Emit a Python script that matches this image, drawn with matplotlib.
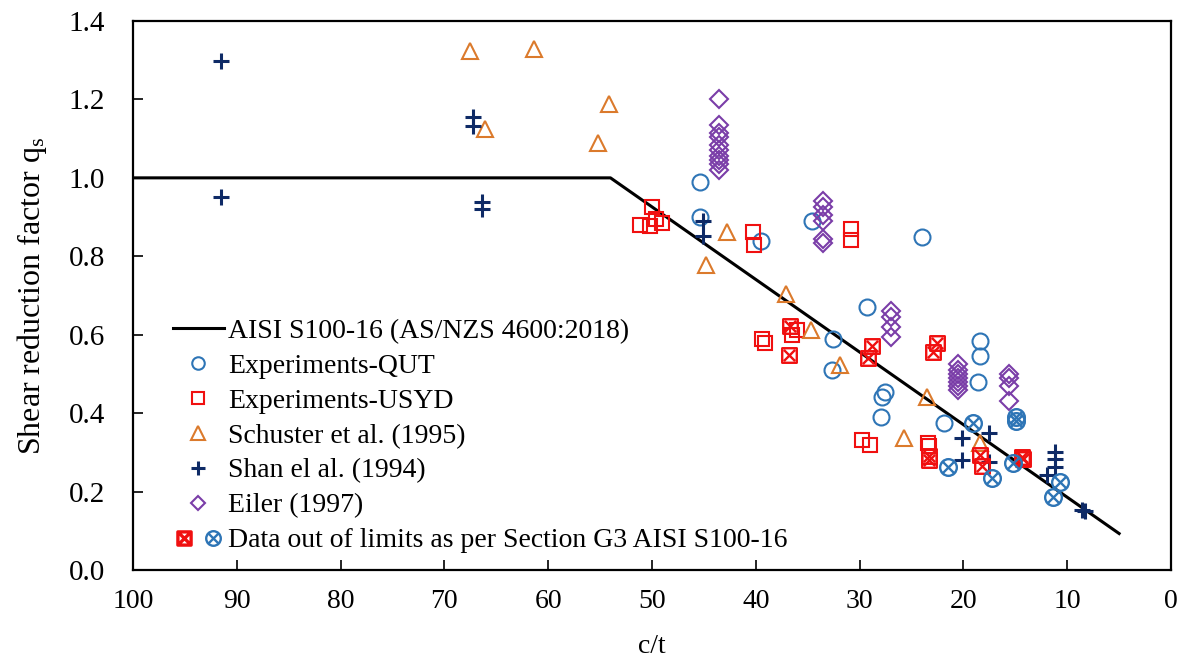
import matplotlib
matplotlib.use("Agg")
import matplotlib.pyplot as plt
from matplotlib.path import Path
from matplotlib.lines import Line2D
from matplotlib.legend_handler import HandlerTuple

# AISI S100-16 design curve (qs = 1 above c/t = 54, linear below)
aisi_ct = [100, 54, 5]
aisi_qs = [1.0, 1.0, 0.093]

# Experiments - QUT
qut_ct = [45.4, 45.4, 39.5, 34.6, 24.0, 29.3, 32.6, 32.7, 27.6, 27.8, 27.9, 21.9, 18.4, 18.4, 18.6]
qut_qs = [0.99, 0.90, 0.84, 0.89, 0.85, 0.67, 0.59, 0.51, 0.455, 0.44, 0.39, 0.375, 0.585, 0.545, 0.48]
qut_out_ct = [19.1, 21.5, 17.2, 15.2, 14.9, 14.9, 10.7, 11.4]
qut_out_qs = [0.375, 0.263, 0.235, 0.273, 0.39, 0.38, 0.225, 0.185]

# Experiments - USYD
usyd_ct = [50.0, 51.2, 50.2, 49.6, 49.0, 40.3, 40.2, 30.8, 30.8, 39.4, 39.1,
           36.5, 36.0, 29.8, 29.0, 23.4, 23.3]
usyd_qs = [0.925, 0.881, 0.877, 0.894, 0.886, 0.861, 0.830, 0.869, 0.841, 0.588, 0.580,
           0.600, 0.613, 0.332, 0.319, 0.325, 0.315]
usyd_out_ct = [36.7, 36.8, 28.8, 29.2, 22.5, 22.9, 23.3, 23.3, 18.4, 18.2, 14.4, 14.3]
usyd_out_qs = [0.621, 0.547, 0.570, 0.541, 0.580, 0.557, 0.290, 0.280, 0.294, 0.264, 0.289, 0.282]

# Schuster et al. (1995)
schuster_ct = [67.5, 61.4, 66.1, 54.1, 55.2, 42.8, 44.8, 37.1, 34.7, 31.9, 23.5, 25.7, 18.4]
schuster_qs = [1.323, 1.329, 1.124, 1.188, 1.088, 0.861, 0.777, 0.703, 0.613, 0.524, 0.442, 0.337, 0.324]

# Shan et al. (1994)
shan_ct = [91.5, 91.5, 67.2, 67.2, 66.4, 66.4, 45.1, 45.1, 20.1, 20.1, 17.5, 17.5,
           11.2, 11.2, 11.2, 11.9, 8.6, 8.3]
shan_qs = [1.298, 0.950, 1.155, 1.132, 0.938, 0.920, 0.889, 0.851, 0.337, 0.281, 0.350, 0.276,
           0.301, 0.283, 0.262, 0.243, 0.153, 0.150]

# Eiler (1997)
eiler_ct = [43.5, 43.5, 43.5, 43.5, 43.5, 43.5, 43.5, 43.5, 43.5, 43.5,
            33.5, 33.5, 33.5, 33.5, 33.5, 33.5,
            27.0, 27.0, 27.0, 27.0,
            20.5, 20.5, 20.5, 20.5, 20.5, 20.5, 20.5,
            15.6, 15.6, 15.6, 15.6]
eiler_qs = [1.20, 1.135, 1.115, 1.105, 1.085, 1.07, 1.055, 1.045, 1.035, 1.02,
            0.94, 0.925, 0.905, 0.89, 0.845, 0.835,
            0.66, 0.645, 0.62, 0.595,
            0.525, 0.51, 0.50, 0.49, 0.48, 0.47, 0.46,
            0.50, 0.49, 0.47, 0.43]

C_QUT = "#2E75B6"
C_USYD = "#F01010"
C_SCH = "#DB7A2C"
C_SHAN = "#0E2A66"
C_EIL = "#7A3DA8"


def boxed_cross():
    # square with an X through it
    verts = [(-1, -1), (1, -1), (1, 1), (-1, 1), (-1, -1),
             (-0.75, -0.75), (0.75, 0.75), (-0.75, 0.75), (0.75, -0.75)]
    codes = [Path.MOVETO, Path.LINETO, Path.LINETO, Path.LINETO, Path.CLOSEPOLY,
             Path.MOVETO, Path.LINETO, Path.MOVETO, Path.LINETO]
    return Path(verts, codes)


def circled_cross():
    circ = Path.unit_circle()
    k = 0.707
    x = Path([(-k, -k), (k, k), (-k, k), (k, -k)],
             [Path.MOVETO, Path.LINETO, Path.MOVETO, Path.LINETO])
    return Path.make_compound_path(circ, x)


def main():
    plt.rcParams["font.family"] = ["Liberation Serif", "DejaVu Serif"]
    plt.rcParams["mathtext.fontset"] = "stix"

    fig, ax = plt.subplots(figsize=(11.85, 6.6), dpi=100)
    fig.subplots_adjust(left=133 / 1185, right=1171 / 1185, bottom=1 - 570 / 660, top=1 - 21 / 660)

    mew = 1.5
    line, = ax.plot(aisi_ct, aisi_qs, color="black", lw=2.2, zorder=2)

    ax.plot(qut_ct, qut_qs, ls="none", marker="o", ms=11.5, mfc="none", mec=C_QUT, mew=mew)
    ax.plot(usyd_ct, usyd_qs, ls="none", marker="s", ms=10, mfc="none", mec=C_USYD, mew=mew)
    ax.plot(schuster_ct, schuster_qs, ls="none", marker="^", ms=12, mfc="none", mec=C_SCH, mew=mew)
    ax.plot(shan_ct, shan_qs, ls="none", marker="+", ms=12, mec=C_SHAN, mew=2.2)
    ax.plot(eiler_ct, eiler_qs, ls="none", marker="D", ms=9, mfc="none", mec=C_EIL, mew=mew)
    ax.plot(usyd_out_ct, usyd_out_qs, ls="none", marker=boxed_cross(), ms=10.5, mfc="none",
            mec=C_USYD, mew=1.7)
    ax.plot(qut_out_ct, qut_out_qs, ls="none", marker=circled_cross(), ms=12, mfc="none",
            mec=C_QUT, mew=1.7)

    ax.set_xlim(100, 0)
    ax.set_ylim(0, 1.4)
    ax.set_xticks(range(100, -1, -10))
    ax.set_yticks([0.0, 0.2, 0.4, 0.6, 0.8, 1.0, 1.2, 1.4])
    ax.set_yticklabels([f"{v:.1f}" for v in ax.get_yticks()])
    ax.tick_params(axis="both", direction="in", length=7, width=1.2)
    ax.tick_params(axis="x", pad=14, labelsize=20)
    ax.tick_params(axis="y", pad=20, labelsize=21)
    for sp in ax.spines.values():
        sp.set_linewidth(1.6)

    ax.set_xlabel("c/t", fontsize=20, labelpad=14)
    ax.set_ylabel(r"Shear reduction factor q$_\mathregular{s}$", fontsize=23, labelpad=14)

    # legend handles
    h_qut = Line2D([], [], ls="none", marker="o", ms=9, mfc="none", mec=C_QUT, mew=mew)
    h_usyd = Line2D([], [], ls="none", marker="s", ms=8.5, mfc="none", mec=C_USYD, mew=mew)
    h_sch = Line2D([], [], ls="none", marker="^", ms=10, mfc="none", mec=C_SCH, mew=mew)
    h_shan = Line2D([], [], ls="none", marker="+", ms=10, mec=C_SHAN, mew=2.2)
    h_eil = Line2D([], [], ls="none", marker="D", ms=7.5, mfc="none", mec=C_EIL, mew=mew)
    h_out_r = Line2D([], [], ls="none", marker=boxed_cross(), ms=9.5, mfc="none", mec=C_USYD, mew=2.4)
    h_out_b = Line2D([], [], ls="none", marker=circled_cross(), ms=10.5, mfc="none", mec=C_QUT, mew=1.7)

    ax.legend([line, h_qut, h_usyd, h_sch, h_shan, h_eil, (h_out_r, h_out_b)],
              ["AISI S100-16 (AS/NZS 4600:2018)", "Experiments-QUT", "Experiments-USYD",
               "Schuster et al. (1995)", "Shan el al. (1994)", "Eiler (1997)",
               "Data out of limits as per Section G3 AISI S100-16"],
              handler_map={tuple: HandlerTuple(ndivide=None, pad=0.25)},
              loc="lower left", bbox_to_anchor=(0.022, 0.0), frameon=False,
              fontsize=20, handlelength=1.85, handletextpad=0.15, labelspacing=0.34,
              borderaxespad=0.2)

    plt.savefig("out.png", dpi=100)
    plt.close()


if __name__ == "__main__":
    main()
